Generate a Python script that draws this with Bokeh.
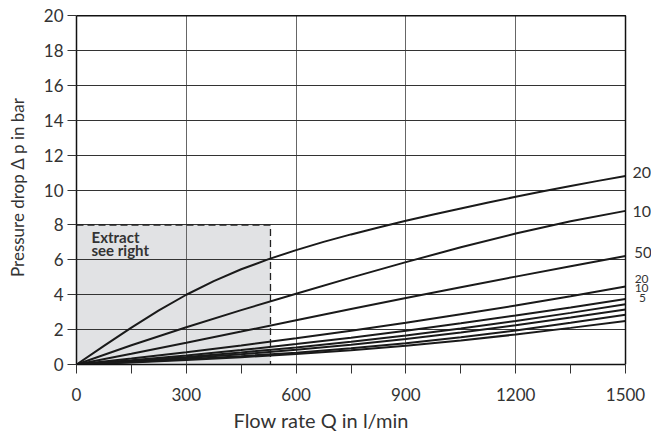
from bokeh.plotting import figure
from bokeh.models import FixedTicker, Range1d, Label, Title
from bokeh.embed import file_html
from bokeh.resources import INLINE

# ---- data ----
flow_fine = [0, 75, 150, 225, 300, 375, 450, 525, 600, 675, 750, 825, 900,
             975, 1050, 1125, 1200, 1275, 1350, 1425, 1500]
curve_200 = [0, 1.07, 2.11, 3.10, 4.0, 4.78, 5.46, 6.04, 6.56, 7.03, 7.46, 7.86, 8.24,
             8.60, 8.95, 9.29, 9.62, 9.94, 10.24, 10.53, 10.81]

flow = [0, 150, 300, 450, 600, 750, 900, 1050, 1200, 1350, 1500]
curve_100 = [0, 1.1, 2.14, 3.12, 4.06, 4.98, 5.87, 6.72, 7.51, 8.21, 8.81]
curve_50 = [0, 0.62, 1.25, 1.89, 2.54, 3.18, 3.81, 4.43, 5.04, 5.64, 6.22]
curve_20 = [0, 0.34, 0.70, 1.09, 1.50, 1.94, 2.39, 2.88, 3.38, 3.92, 4.47]
curve_10 = [0, 0.24, 0.52, 0.83, 1.17, 1.54, 1.94, 2.37, 2.81, 3.27, 3.75]
curve_5 = [0, 0.20, 0.43, 0.69, 0.98, 1.30, 1.66, 2.06, 2.50, 2.96, 3.45]
curve_c = [0, 0.17, 0.37, 0.59, 0.84, 1.13, 1.46, 1.83, 2.25, 2.69, 3.15]
curve_d = [0, 0.14, 0.30, 0.48, 0.68, 0.93, 1.22, 1.56, 1.95, 2.39, 2.85]
curve_e = [0, 0.12, 0.26, 0.42, 0.60, 0.82, 1.08, 1.38, 1.72, 2.10, 2.50]
lower_curves = [curve_100, curve_50, curve_20, curve_10, curve_5, curve_c, curve_d, curve_e]

x_ticks = [0, 300, 600, 900, 1200, 1500]
x_minor = [150, 450, 750, 1050, 1350]
y_ticks = [0, 2, 4, 6, 8, 10, 12, 14, 16, 18, 20]

extract_x = [0, 530]
extract_y = [0, 8]

end_labels = ["200", "100", "50", "20", "10", "5"]
end_label_x = [1519, 1519, 1524, 1525, 1525, 1537]
end_label_y = [11.0, 8.75, 6.45, 4.93, 4.36, 3.79]
end_label_size = ["16px", "16px", "15px", "12px", "12px", "12px"]

FONT = "Lato"
TXT = "#333333"

x_lo, x_hi = x_ticks[0], x_ticks[-1]
y_lo, y_hi = y_ticks[0], y_ticks[-1]

# view extends a little past the chart box so the curve labels on the right can show
p = figure(width=651, height=439, output_backend="svg", toolbar_location=None,
           x_range=Range1d(x_lo, 1571), y_range=Range1d(y_lo, 20.3),
           min_border_left=76, min_border_right=0, min_border_top=10, min_border_bottom=75)
p.background_fill_color = "white"
p.border_fill_color = "white"
p.outline_line_color = None

# shaded extract region (below the grid)
p.quad(left=extract_x[0], right=extract_x[1], bottom=extract_y[0], top=extract_y[1],
       fill_color="#e1e2e4", line_color=None, level="image")
p.line(x=[extract_x[0], extract_x[1], extract_x[1]], y=[extract_y[1], extract_y[1], extract_y[0]],
       line_color="#222222", line_width=1.3, line_dash="7 4")

p.line(x=flow_fine, y=curve_200, line_color="#1a1a1a", line_width=2)
for c in lower_curves:
    p.line(x=flow, y=c, line_color="#1a1a1a", line_width=2)

# chart box: top and right borders
p.line(x=[x_lo, x_hi, x_hi], y=[y_hi, y_hi, y_lo], line_color="#111111", line_width=1.5)

# axes
p.xaxis.ticker = FixedTicker(ticks=x_ticks, minor_ticks=x_minor)
p.yaxis.ticker = FixedTicker(ticks=y_ticks, minor_ticks=[])
p.xaxis.bounds = (x_lo, x_hi)
p.yaxis.bounds = (y_lo, y_hi)
for ax in (p.xaxis[0], p.yaxis[0]):
    ax.axis_line_color = "#111111"
    ax.axis_line_width = 1.5
    ax.major_tick_line_color = "#333333"
    ax.minor_tick_line_color = "#333333"
    ax.major_tick_in = 0
    ax.minor_tick_in = 0
    ax.major_tick_out = 9
    ax.minor_tick_out = 9
    ax.major_label_text_font = FONT
    ax.major_label_text_font_size = "17px"
    ax.major_label_text_color = TXT
    ax.axis_label_text_font = FONT
    ax.axis_label_text_font_size = "17px"
    ax.axis_label_text_font_style = "normal"
    ax.axis_label_text_color = TXT

p.yaxis.axis_label = "Pressure drop Δ p in bar"
p.xaxis.major_label_standoff = 14
p.yaxis.major_label_standoff = 4
p.yaxis.axis_label_standoff = 13

p.add_layout(Title(text="Flow rate Q in l/min", align="left", offset=157,
                   text_font=FONT, text_font_size="20px", text_font_style="normal",
                   text_color=TXT, standoff=5), "below")

p.xgrid.grid_line_color = "#666666"
p.xgrid.grid_line_width = 1
p.xgrid.cross_bounds = (y_lo, y_hi)
p.ygrid.grid_line_color = "#333333"
p.ygrid.grid_line_width = 1
p.ygrid.cross_bounds = (x_lo, x_hi)

# extract text
p.add_layout(Label(x=41, y=7.3, text="Extract", text_font=FONT, text_font_size="15px",
                   text_font_style="bold", text_color=TXT, text_baseline="alphabetic"))
p.add_layout(Label(x=41, y=6.55, text="see right", text_font=FONT, text_font_size="15px",
                   text_font_style="bold", text_color=TXT, text_baseline="alphabetic"))

for t, lx, ly, fs in zip(end_labels, end_label_x, end_label_y, end_label_size):
    p.add_layout(Label(x=lx, y=ly, text=t, text_font=FONT, text_font_size=fs,
                       text_color=TXT, text_baseline="middle"))

open("out.html", "w").write(file_html(p, INLINE))
